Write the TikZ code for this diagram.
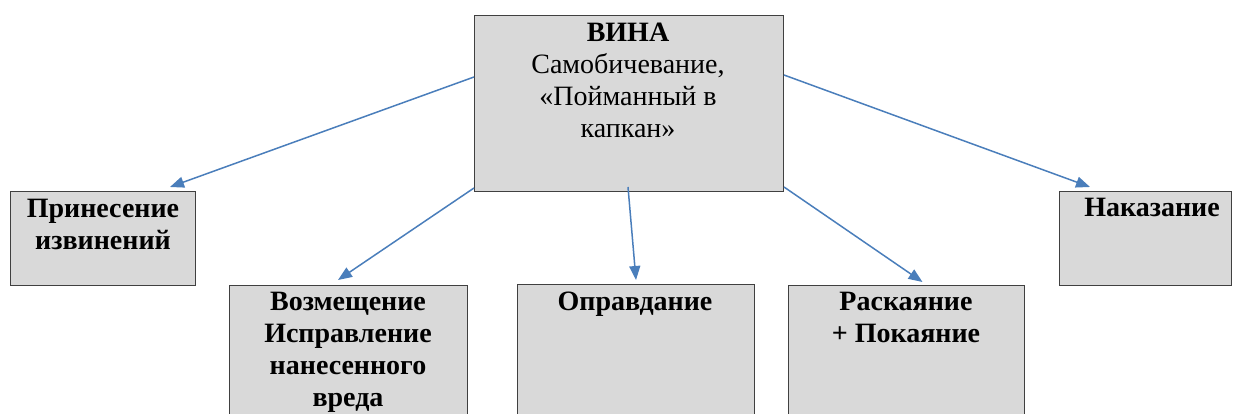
\documentclass[tikz,border=0pt]{standalone}
\usepackage{fontspec}
\setmainfont{Liberation Serif}
\usetikzlibrary{arrows.meta,calc}
\definecolor{boxfill}{HTML}{D9D9D9}
\definecolor{boxline}{HTML}{404040}
\definecolor{arrowblue}{HTML}{4A7EBB}
\tikzset{
  box/.style={draw=boxline, fill=boxfill, line width=1pt, anchor=north west, inner sep=0pt},
  txt/.style={anchor=base, align=center, inner sep=0pt, font=\fontsize{28}{32}\selectfont},
  btxt/.style={txt, font=\fontsize{28}{32}\selectfont\bfseries},
  conn/.style={draw=arrowblue, line width=1.5pt, -{Triangle[length=14pt,width=11pt]}}
}
\begin{document}
\begin{tikzpicture}[x=1pt,y=-1pt]
\useasboundingbox (0,0) rectangle (1235,414);
\clip (0,0) rectangle (1235,414);
% boxes
\node[box, minimum width=309pt, minimum height=176pt] (top) at (474,15) {};
\node[box, minimum width=185pt, minimum height=94pt] (apol) at (10,191) {};
\node[box, minimum width=238pt, minimum height=150pt] (comp) at (229,285) {};
\node[box, minimum width=237pt, minimum height=150pt] (just) at (517,284) {};
\node[box, minimum width=236pt, minimum height=150pt] (rep) at (788,285) {};
\node[box, minimum width=172pt, minimum height=94pt] (pun) at (1059,191) {};
% texts (anchor = baseline of last line)
\node[txt] (toptxt) at (628,138) {\textbf{ВИНА}\\Самобичевание,\\«Пойманный в\\капкан»};
\node[btxt] (apoltxt) at (103,250) {Принесение\\извинений};
\node[btxt] (comptxt) at (348,406) {Возмещение\\Исправление\\нанесенного\\вреда};
\node[btxt] (justtxt) at (635,310) {Оправдание};
\node[btxt] (reptxt) at (906,342) {Раскаяние\\+ Покаяние};
\node[btxt] (puntxt) at (1152,217) {Наказание};
% connectors
\draw[conn] ($(top.north west)+(0,62)$) -- ($(apol.north east)+(-26,-4)$);
\draw[conn] ($(top.south west)+(0,-4)$) -- ($(comp.north west)+(109,-5)$);
\draw[conn] ($(top.south)+(-1,-5)$) -- ($(just.north)+(0,-4)$);
\draw[conn] ($(top.south east)+(0,-5)$) -- ($(rep.north)+(16,-3)$);
\draw[conn] ($(top.north east)+(0,60)$) -- ($(pun.north west)+(31,-4)$);
\end{tikzpicture}
\end{document}
